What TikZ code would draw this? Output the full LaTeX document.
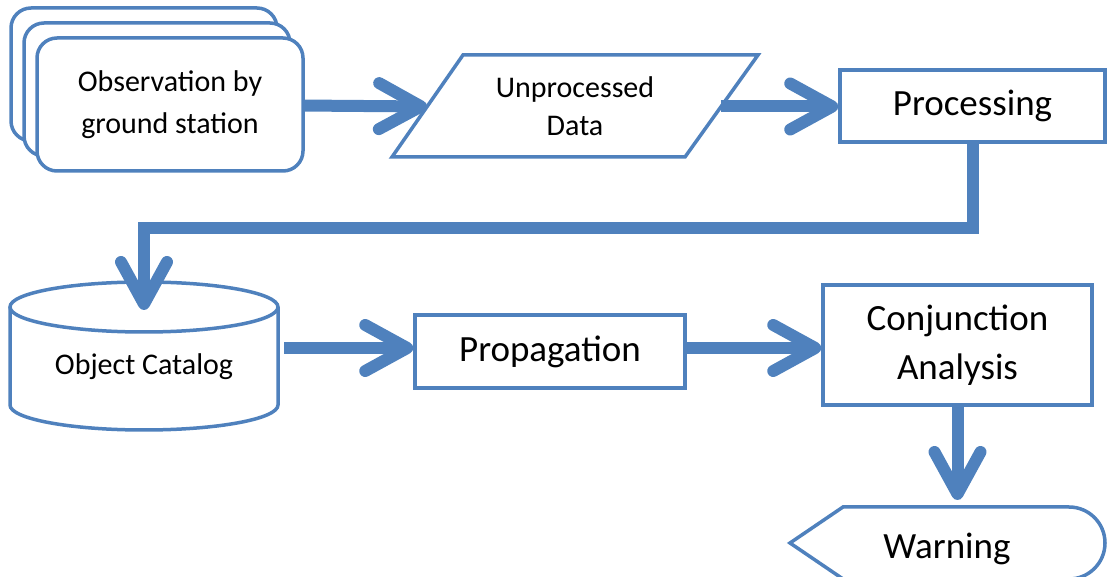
\documentclass[tikz,border=0pt]{standalone}
\usepackage{fontspec}
\setmainfont{Carlito}
\usetikzlibrary{arrows.meta,shadows}
\definecolor{flowblue}{RGB}{79,129,189}
\tikzset{
  shapeline/.style={draw=flowblue,line width=3.5bp,fill=white},
  box/.style={shapeline,align=center},
  bigtext/.style={font=\fontsize{37bp}{49bp}\selectfont,align=center},
  smalltext/.style={font=\fontsize{30bp}{42bp}\selectfont,align=center},
  flow/.style={draw=flowblue,line width=12bp,->},
}
\begin{document}
\begin{tikzpicture}[>={Straight Barb[round,length=42bp,width=46bp]},line join=miter,]
\useasboundingbox (0bp,0bp) rectangle (1108bp,577bp);
%%
\node (obs) at (170bp,472.5bp) [box,smalltext,rounded corners=20bp,minimum width=266bp,minimum height=133bp,
  general shadow={shadow xshift=-26bp,shadow yshift=30bp,draw=flowblue,fill=white,line width=3.5bp},
  general shadow={shadow xshift=-13bp,shadow yshift=15bp,draw=flowblue,fill=white,line width=3.5bp}] {Observation by\\ground station};
  \draw [shapeline] (392bp,420bp) -- (463bp,522bp) -- (758bp,522bp) -- (685bp,420bp) -- cycle;
  \node (data) at (575bp,471bp) [smalltext,font=\fontsize{30bp}{38bp}\selectfont] {Unprocessed\\Data};
  \coordinate (data in) at (427bp,470.5bp);
  \coordinate (data out) at (721bp,470.5bp);
  \node (proc) at (972.5bp,471bp) [box,bigtext,minimum width=265bp,minimum height=72bp] {Processing};
  \draw [flow] (obs) -- (data in);
  \draw [flow] (data out) -- (data out -| proc.west);
%
  \draw [shapeline] (10bp,270bp) -- (10bp,172bp) arc [start angle=180,end angle=360,x radius=134bp,y radius=25bp] -- (278bp,270bp);
  \draw [shapeline] (144bp,270bp) ellipse [x radius=134bp,y radius=25bp];
  \node (catalog) at (144bp,210bp) [smalltext] {Object Catalog};
  \coordinate (catalog top) at (144bp,267bp);
  \coordinate (bend) at (144bp,349bp);
  \draw [flow] (proc.south) |- (bend) -- (catalog top);
%
  \coordinate (catalog out) at (284bp,229bp);
  \node (prop) at (550bp,225.5bp) [box,bigtext,minimum width=270bp,minimum height=73bp] {Propagation};
  \node (conj) at (957.5bp,232bp) [box,bigtext,minimum width=269bp,minimum height=120bp] {Conjunction\\Analysis};
  \draw [flow] (catalog out) -- (catalog out -| prop.west);
  \draw [flow] (prop.east |- catalog out) -- (conj.west |- catalog out);
%
  \draw [shapeline] (790bp,34bp) -- (843bp,70bp) -- (1069bp,70bp) arc [start angle=90,end angle=-90,radius=36bp] -- (843bp,-2bp) -- cycle;
  \node (warn) at (947bp,28bp) [bigtext] {Warning};
  \coordinate (warn in) at (957.5bp,77bp);
  \draw [flow] (conj.south) -- (warn in);
%
\end{tikzpicture}
\end{document}
